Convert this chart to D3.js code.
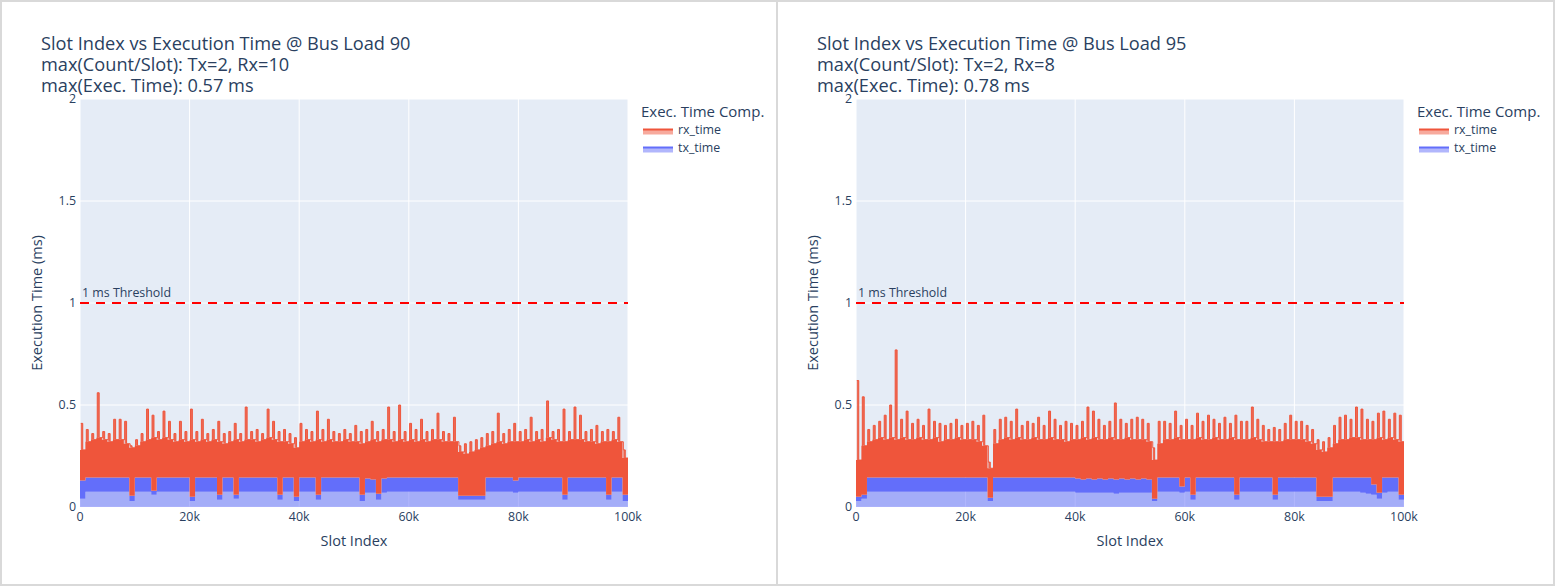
<!DOCTYPE html>
<html>
<head>
<meta charset="utf-8">
<script src="https://cdn.jsdelivr.net/npm/d3@7"></script>
<style>
  body { margin: 0; background: #fff; }
  text { font-family: "Open Sans", verdana, arial, sans-serif; fill: #2a3f5f; }
</style>
</head>
<body>
<svg id="chart" width="1556" height="587"></svg>
<script>

// --- data (one value per 1k-slot bin) ---

const busLoads = [90, 95];
const maxTxCount = [2, 2];
const maxRxCount = [10, 8];
const maxExecTime = [0.57, 0.78];

const xTicks = [0, 20000, 40000, 60000, 80000, 100000];
const yTicks = [0, 0.5, 1, 1.5, 2];
const thresholdMs = 1;
const binSize = 1000;

// Bus load 90
const rxPeak90 = [
  0.41,0.38,0.36,0.56,0.37,0.36,0.43,0.43,0.42,0.30,
  0.33,0.36,0.48,0.45,0.37,0.47,0.42,0.36,0.42,0.37,
  0.48,0.37,0.43,0.36,0.38,0.42,0.36,0.37,0.41,0.36,
  0.49,0.37,0.38,0.36,0.48,0.42,0.37,0.38,0.36,0.34,
  0.41,0.38,0.37,0.47,0.38,0.43,0.37,0.36,0.38,0.36,
  0.40,0.37,0.38,0.42,0.37,0.38,0.49,0.37,0.50,0.37,
  0.41,0.38,0.43,0.37,0.38,0.46,0.37,0.36,0.44,0.30,
  0.31,0.32,0.33,0.34,0.36,0.37,0.46,0.36,0.38,0.41,
  0.37,0.38,0.44,0.37,0.38,0.52,0.37,0.38,0.48,0.37,
  0.49,0.45,0.37,0.38,0.40,0.37,0.38,0.37,0.44,0.28
];
const rxBase90 = [
  0.28,0.32,0.33,0.34,0.33,0.32,0.33,0.33,0.31,0.29,
  0.30,0.32,0.33,0.34,0.33,0.34,0.33,0.32,0.33,0.32,
  0.33,0.32,0.33,0.32,0.33,0.32,0.31,0.32,0.33,0.32,
  0.33,0.33,0.32,0.33,0.34,0.33,0.32,0.32,0.31,0.29,
  0.32,0.33,0.32,0.33,0.32,0.33,0.32,0.32,0.33,0.32,
  0.32,0.31,0.32,0.33,0.32,0.33,0.33,0.32,0.33,0.32,
  0.33,0.32,0.33,0.32,0.33,0.33,0.32,0.32,0.32,0.27,
  0.26,0.27,0.28,0.29,0.30,0.31,0.32,0.31,0.32,0.32,
  0.32,0.33,0.32,0.33,0.32,0.34,0.33,0.32,0.32,0.33,
  0.33,0.33,0.32,0.32,0.31,0.32,0.32,0.33,0.32,0.24
];
const txTop90 = [
  0.13,0.145,0.145,0.145,0.145,0.145,0.145,0.145,0.145,0.055,
  0.145,0.145,0.145,0.08,0.145,0.145,0.145,0.145,0.145,0.145,
  0.05,0.145,0.145,0.145,0.145,0.06,0.145,0.145,0.06,0.145,
  0.145,0.145,0.145,0.145,0.145,0.145,0.06,0.145,0.145,0.05,
  0.145,0.145,0.145,0.06,0.145,0.145,0.145,0.145,0.145,0.145,
  0.145,0.06,0.14,0.135,0.065,0.14,0.145,0.145,0.145,0.145,
  0.145,0.145,0.145,0.145,0.145,0.145,0.145,0.145,0.145,0.055,
  0.055,0.055,0.055,0.055,0.145,0.145,0.145,0.145,0.145,0.13,
  0.145,0.145,0.145,0.145,0.145,0.145,0.145,0.145,0.06,0.145,
  0.145,0.145,0.145,0.145,0.145,0.145,0.06,0.145,0.145,0.06
];
const txBase90 = [
  0.04,0.075,0.075,0.075,0.075,0.075,0.075,0.075,0.075,0.03,
  0.075,0.075,0.075,0.06,0.075,0.075,0.075,0.075,0.075,0.075,
  0.03,0.075,0.075,0.075,0.075,0.035,0.075,0.075,0.04,0.075,
  0.075,0.075,0.075,0.075,0.075,0.075,0.035,0.075,0.075,0.03,
  0.075,0.075,0.075,0.035,0.075,0.075,0.075,0.075,0.075,0.075,
  0.075,0.03,0.07,0.07,0.035,0.07,0.075,0.075,0.075,0.075,
  0.075,0.075,0.075,0.075,0.075,0.075,0.075,0.075,0.075,0.035,
  0.035,0.035,0.035,0.035,0.075,0.075,0.075,0.075,0.075,0.07,
  0.075,0.075,0.075,0.075,0.075,0.075,0.075,0.075,0.035,0.075,
  0.075,0.075,0.075,0.075,0.075,0.075,0.035,0.075,0.075,0.03
];

// Bus load 95
const rxPeak95 = [
  0.62,0.54,0.38,0.40,0.42,0.45,0.50,0.77,0.43,0.47,
  0.41,0.43,0.40,0.48,0.42,0.41,0.40,0.41,0.43,0.40,
  0.41,0.42,0.40,0.45,0.22,0.38,0.43,0.44,0.42,0.48,
  0.40,0.42,0.41,0.44,0.40,0.47,0.43,0.40,0.42,0.41,
  0.40,0.42,0.49,0.47,0.43,0.40,0.42,0.51,0.43,0.41,
  0.43,0.44,0.43,0.41,0.29,0.42,0.42,0.41,0.47,0.40,
  0.43,0.40,0.46,0.42,0.45,0.43,0.41,0.44,0.41,0.45,
  0.42,0.42,0.49,0.43,0.40,0.38,0.39,0.38,0.41,0.45,
  0.42,0.42,0.40,0.38,0.33,0.32,0.34,0.40,0.44,0.45,
  0.43,0.49,0.48,0.43,0.42,0.46,0.47,0.43,0.46,0.45
];
const rxBase95 = [
  0.23,0.30,0.32,0.33,0.34,0.33,0.34,0.33,0.34,0.33,
  0.33,0.34,0.33,0.33,0.34,0.32,0.33,0.33,0.34,0.33,
  0.33,0.33,0.32,0.30,0.19,0.31,0.33,0.34,0.33,0.34,
  0.33,0.33,0.34,0.33,0.33,0.34,0.33,0.33,0.32,0.33,
  0.33,0.34,0.33,0.34,0.33,0.33,0.34,0.33,0.33,0.34,
  0.33,0.33,0.33,0.32,0.23,0.31,0.33,0.33,0.34,0.33,
  0.33,0.33,0.34,0.33,0.33,0.34,0.33,0.33,0.34,0.33,
  0.33,0.33,0.34,0.33,0.32,0.32,0.32,0.32,0.33,0.33,
  0.33,0.33,0.32,0.31,0.28,0.27,0.29,0.31,0.33,0.33,
  0.34,0.34,0.33,0.33,0.33,0.34,0.33,0.34,0.33,0.32
];
const txTop95 = [
  0.05,0.06,0.145,0.145,0.145,0.145,0.145,0.145,0.145,0.145,
  0.145,0.145,0.145,0.145,0.145,0.145,0.145,0.145,0.145,0.145,
  0.145,0.145,0.145,0.145,0.045,0.145,0.145,0.145,0.145,0.145,
  0.145,0.145,0.145,0.145,0.145,0.145,0.145,0.145,0.145,0.145,
  0.14,0.135,0.14,0.135,0.14,0.135,0.14,0.135,0.14,0.135,
  0.14,0.135,0.14,0.135,0.04,0.145,0.145,0.145,0.145,0.10,
  0.145,0.06,0.145,0.145,0.145,0.145,0.145,0.145,0.145,0.06,
  0.145,0.145,0.145,0.145,0.145,0.145,0.06,0.145,0.145,0.145,
  0.145,0.145,0.145,0.145,0.05,0.05,0.05,0.145,0.145,0.145,
  0.145,0.145,0.145,0.145,0.11,0.07,0.145,0.145,0.145,0.06
];
const txBase95 = [
  0.03,0.04,0.075,0.075,0.075,0.075,0.075,0.075,0.075,0.075,
  0.075,0.075,0.075,0.075,0.075,0.075,0.075,0.075,0.075,0.075,
  0.075,0.075,0.075,0.075,0.03,0.075,0.075,0.075,0.075,0.075,
  0.075,0.075,0.075,0.075,0.075,0.075,0.075,0.075,0.075,0.075,
  0.07,0.07,0.07,0.07,0.07,0.07,0.07,0.065,0.07,0.07,
  0.07,0.07,0.07,0.07,0.03,0.075,0.075,0.075,0.075,0.07,
  0.075,0.035,0.075,0.075,0.075,0.075,0.075,0.075,0.075,0.035,
  0.075,0.075,0.075,0.075,0.075,0.075,0.035,0.075,0.075,0.075,
  0.075,0.075,0.075,0.075,0.03,0.03,0.03,0.075,0.075,0.075,
  0.075,0.075,0.07,0.065,0.06,0.04,0.07,0.075,0.075,0.035
];

const panels = [
  { rxPeak: rxPeak90, rxBase: rxBase90, txTop: txTop90, txBase: txBase90 },
  { rxPeak: rxPeak95, rxBase: rxBase95, txTop: txTop95, txBase: txBase95 }
];

// --- layout ---
const panelWidth = 776;
const margin = { left: 80, top: 99 };
const plotW = 548, plotH = 408;
const rxColor = "#EF553B", txColor = "#636EFA";
const rxFill = "rgba(239,85,59,0.5)", txFill = "rgba(99,110,250,0.5)";

const svg = d3.select("#chart");
svg.append("rect").attr("width", 1556).attr("height", 587).attr("fill", "#fff");

const x = d3.scaleLinear().domain([0, 100000]).range([0, plotW]);
const y = d3.scaleLinear().domain([0, 2]).range([plotH, 0]);

panels.forEach((p, k) => {

    const g = svg.append("g").attr("transform", `translate(${k * panelWidth},0)`);

    // panel frame
    g.append("rect")
        .attr("x", 1).attr("y", 1)
        .attr("width", panelWidth + (k == 1 ? 1 : 0)).attr("height", 584)
        .attr("fill", "none").attr("stroke", "#d9d9d9").attr("stroke-width", 2);

    const plot = g.append("g").attr("transform", `translate(${margin.left},${margin.top})`);

    plot.append("rect").attr("width", plotW).attr("height", plotH).attr("fill", "#E5ECF6");

    // grid
    plot.selectAll(".gx").data(xTicks).join("line")
        .attr("x1", d => x(d)).attr("x2", d => x(d))
        .attr("y1", 0).attr("y2", plotH)
        .attr("stroke", "#fff").attr("stroke-width", 1);
    plot.selectAll(".gy").data(yTicks).join("line")
        .attr("x1", 0).attr("x2", plotW)
        .attr("y1", d => y(d)).attr("y2", d => y(d))
        .attr("stroke", "#fff").attr("stroke-width", 1);

    // bins -> points, stepped envelopes
    const bins = p.rxPeak.map((v, i) => ({
        x0: i * binSize,
        rxPeak: v,
        rxBase: p.rxBase[i],
        txTop: p.txTop[i],
        txBase: p.txBase[i]
    }));
    const last = bins[bins.length - 1];
    const steps = bins.concat([{ ...last, x0: last.x0 + binSize }]);

    const clip = "clip" + k;
    plot.append("clipPath").attr("id", clip)
        .append("rect").attr("width", plotW).attr("height", plotH);
    const data = plot.append("g").attr("clip-path", `url(#${clip})`);

    // tx fill (tozeroy) and the dense tx line band
    data.append("path").datum(steps)
        .attr("fill", txFill)
        .attr("d", d3.area().curve(d3.curveStepAfter)
            .x(d => x(d.x0)).y0(y(0)).y1(d => y(d.txBase)));
    data.append("path").datum(steps)
        .attr("fill", txColor)
        .attr("d", d3.area().curve(d3.curveStepAfter)
            .x(d => x(d.x0)).y0(d => y(d.txBase)).y1(d => y(d.txTop)));

    // rx stacked on tx: dense solid part
    data.append("path").datum(steps)
        .attr("fill", rxColor)
        .attr("d", d3.area().curve(d3.curveStepAfter)
            .x(d => x(d.x0)).y0(d => y(d.txTop)).y1(d => y(d.rxBase)));

    // rx spikes above the dense part: thin vertical bars, one per bin
    const spikes = [];
    bins.forEach(b => {
        spikes.push({ x: b.x0 + 150, v: b.rxPeak, base: b.rxBase });
        spikes.push({ x: b.x0 + 500, v: b.rxBase, base: b.rxBase });
    });
    spikes.push({ x: 100000, v: last.rxBase, base: last.rxBase });
    data.append("path").datum(spikes)
        .attr("fill", rxColor).attr("fill-opacity", 0.85)
        .attr("d", d3.area().curve(d3.curveStepAfter)
            .x(d => x(d.x)).y0(d => y(d.base)).y1(d => y(d.v)));
    data.append("path").datum(spikes)
        .attr("fill", "none").attr("stroke", rxColor).attr("stroke-width", 1)
        .attr("d", d3.line().curve(d3.curveStepAfter).x(d => x(d.x)).y(d => y(d.v)));

    // threshold
    plot.append("line")
        .attr("x1", 0).attr("x2", plotW)
        .attr("y1", y(thresholdMs)).attr("y2", y(thresholdMs))
        .attr("stroke", "red").attr("stroke-width", 2).attr("stroke-dasharray", "9,7");
    plot.append("text")
        .attr("x", 2).attr("y", y(thresholdMs) - 6)
        .attr("font-size", 12.4)
        .text("1 ms Threshold");

    // tick labels
    plot.selectAll(".ty").data(yTicks).join("text")
        .attr("x", -4).attr("y", d => y(d)).attr("dy", "0.35em")
        .attr("text-anchor", "end").attr("font-size", 12.4)
        .text(d => d3.format("~g")(d));
    plot.selectAll(".tx").data(xTicks).join("text")
        .attr("x", d => x(d)).attr("y", plotH + 14)
        .attr("text-anchor", "middle").attr("font-size", 12.4)
        .text(d => d == 0 ? "0" : d3.format("~s")(d));

    // axis titles
    plot.append("text")
        .attr("x", plotW / 2).attr("y", plotH + 39)
        .attr("text-anchor", "middle").attr("font-size", 14.5)
        .text("Slot Index");
    plot.append("text")
        .attr("transform", `translate(${-38},${plotH / 2}) rotate(-90)`)
        .attr("text-anchor", "middle").attr("font-size", 14.5)
        .text("Execution Time (ms)");

    // title
    const titleLines = [
        `Slot Index vs Execution Time @ Bus Load ${busLoads[k]}`,
        `max(Count/Slot): Tx=${maxTxCount[k]}, Rx=${maxRxCount[k]}`,
        `max(Exec. Time): ${maxExecTime[k]} ms`
    ];
    g.selectAll(".title").data(titleLines).join("text")
        .attr("x", 41).attr("y", (d, i) => 50 + i * 21)
        .attr("font-size", 18.2)
        .text(d => d);

    // legend
    const leg = g.append("g").attr("transform", "translate(641,0)");
    leg.append("text").attr("x", 0).attr("y", 117).attr("font-size", 15).text("Exec. Time Comp.");
    [["rx_time", rxColor, rxFill], ["tx_time", txColor, txFill]].forEach(([name, c, f], i) => {
        const yy = 129.5 + i * 18;
        leg.append("rect").attr("x", 2).attr("y", yy).attr("width", 30).attr("height", 5).attr("fill", f);
        leg.append("line").attr("x1", 2).attr("x2", 32).attr("y1", yy).attr("y2", yy)
            .attr("stroke", c).attr("stroke-width", 2);
        leg.append("text").attr("x", 37).attr("y", yy + 4.5).attr("font-size", 12.4).text(name);
    });
});

</script>
</body>
</html>
